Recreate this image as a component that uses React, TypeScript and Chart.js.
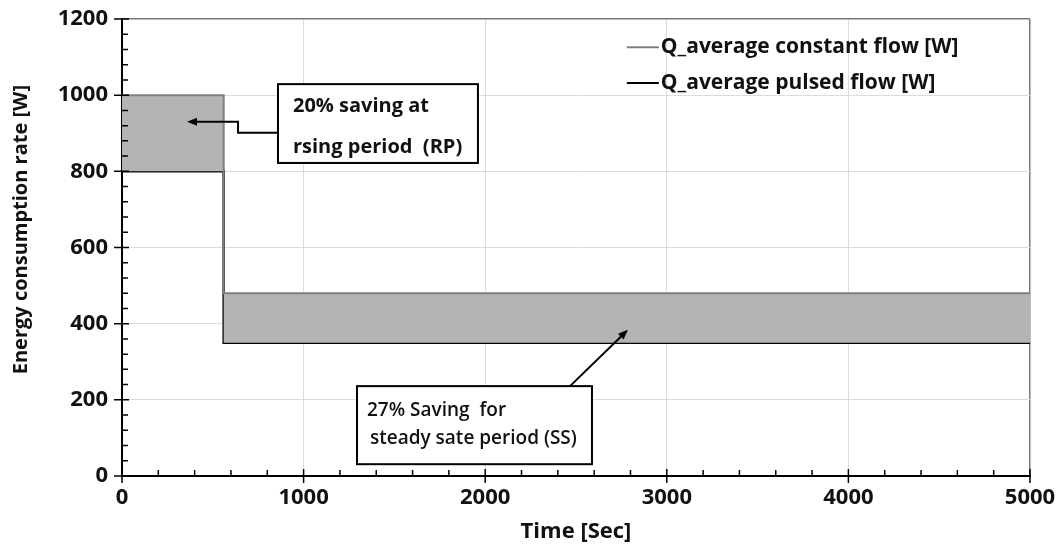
import React, { useEffect, useRef } from "react";
import { Chart, registerables } from "chart.js";

Chart.register(...registerables);

// ---- data ----
const times = [0, 560, 5000];
const constantFlow = [1000, 480, 480];
const pulsedFlow = [800, 350, 350];
const seriesNames = ["Q_average constant flow [W]", "Q_average pulsed flow [W]"];
const xTitle = "Time [Sec]";
const yTitle = "Energy consumption rate [W]";
const noteRP = ["20% saving at", "rsing period  (RP)"];
const noteSS = ["27% Saving  for", " steady sate period (SS)"];

const FONT = "'Open Sans', 'DejaVu Sans', sans-serif";
const FILL = "#b4b4b4";
const CONST_COLOR = "#7f7f7f";

const decorPlugin = {
  id: "decor",
  afterDatasetsDraw(chart: any) {
    const { ctx, chartArea } = chart;
    const xs = chart.scales.x;
    const ys = chart.scales.y;
    const X = (v: number) => xs.getPixelForValue(v);
    const Y = (v: number) => ys.getPixelForValue(v);
    ctx.save();
    // ticks
    ctx.strokeStyle = "#000";
    ctx.lineWidth = 1.5;
    ctx.beginPath();
    for (let v = 0; v <= 5000; v += 200) {
      const px = X(v);
      const major = v % 1000 === 0;
      ctx.moveTo(px, chartArea.bottom - (major ? 7 : 6));
      ctx.lineTo(px, chartArea.bottom + (major ? 7 : 0));
    }
    for (let v = 0; v <= 1200; v += 40) {
      const py = Y(v);
      const major = v % 200 === 0;
      ctx.moveTo(chartArea.left - (major ? 8 : 0), py);
      ctx.lineTo(chartArea.left + (major ? 7 : 6), py);
    }
    ctx.stroke();

    // y-axis title
    ctx.save();
    ctx.fillStyle = "#111";
    ctx.font = `bold 20px ${FONT}`;
    ctx.textAlign = "center";
    ctx.textBaseline = "middle";
    ctx.translate(21, Y(647));
    ctx.rotate(-Math.PI / 2);
    ctx.fillText(yTitle, 0, 0);
    ctx.restore();

    // legend
    ctx.font = `bold 21px ${FONT}`;
    ctx.textBaseline = "middle";
    ctx.textAlign = "left";
    const lx = X(2780);
    const legendRows = [
      { y: Y(1126), color: CONST_COLOR, label: seriesNames[0] },
      { y: Y(1032), color: "#000", label: seriesNames[1] },
    ];
    legendRows.forEach((r) => {
      ctx.strokeStyle = r.color;
      ctx.lineWidth = 2;
      ctx.beginPath();
      ctx.moveTo(lx, r.y);
      ctx.lineTo(lx + 32, r.y);
      ctx.stroke();
      ctx.fillStyle = "#111";
      ctx.fillText(r.label, lx + 34, r.y);
    });

    // arrow helper
    const arrowHead = (x1: number, y1: number, x2: number, y2: number) => {
      const a = Math.atan2(y2 - y1, x2 - x1);
      const L = 10, W = 4;
      ctx.fillStyle = "#000";
      ctx.beginPath();
      ctx.moveTo(x2, y2);
      ctx.lineTo(x2 - L * Math.cos(a) + W * Math.sin(a), y2 - L * Math.sin(a) - W * Math.cos(a));
      ctx.lineTo(x2 - L * Math.cos(a) - W * Math.sin(a), y2 - L * Math.sin(a) + W * Math.cos(a));
      ctx.closePath();
      ctx.fill();
    };

    // arrow 1 (elbow)
    ctx.strokeStyle = "#000";
    ctx.lineWidth = 2;
    const p1 = [X(859), Y(901)];
    const p2 = [X(639), Y(901)];
    const p3 = [X(639), Y(930)];
    const p4 = [X(358), Y(930)];
    ctx.beginPath();
    ctx.moveTo(p1[0], p1[1]);
    ctx.lineTo(p2[0], p2[1]);
    ctx.lineTo(p3[0], p3[1]);
    ctx.lineTo(p4[0] + 6, p4[1]);
    ctx.stroke();
    arrowHead(p3[0], p3[1], p4[0], p4[1]);

    // arrow 2
    const q1 = [X(2467), Y(236)];
    const q2 = [X(2786), Y(384)];
    ctx.beginPath();
    ctx.moveTo(q1[0], q1[1]);
    const ang = Math.atan2(q2[1] - q1[1], q2[0] - q1[0]);
    ctx.lineTo(q2[0] - 6 * Math.cos(ang), q2[1] - 6 * Math.sin(ang));
    ctx.stroke();
    arrowHead(q1[0], q1[1], q2[0], q2[1]);

    // boxes
    const box = (x0: number, y0: number, x1: number, y1: number) => {
      const l = X(x0), t = Y(y0), r = X(x1), b = Y(y1);
      ctx.fillStyle = "#fff";
      ctx.fillRect(l, t, r - l, b - t);
      ctx.strokeStyle = "#000";
      ctx.lineWidth = 2;
      ctx.strokeRect(l, t, r - l, b - t);
      return { l, t };
    };
    const b1 = box(859, 1029, 1960, 822);
    ctx.fillStyle = "#111";
    ctx.font = `bold 20px ${FONT}`;
    ctx.textBaseline = "middle";
    ctx.textAlign = "left";
    ctx.fillText(noteRP[0], b1.l + 15, b1.t + 22);
    ctx.fillText(noteRP[1], b1.l + 15, b1.t + 63);

    const b2 = box(1294, 236, 2588, 31);
    ctx.fillStyle = "#111";
    ctx.font = `600 19px ${FONT}`;
    ctx.textBaseline = "middle";
    ctx.fillText(noteSS[0], b2.l + 10, b2.t + 24);
    ctx.fillText(noteSS[1], b2.l + 8, b2.t + 52);
    ctx.restore();
  },
};

export default function App() {
  const ref = useRef<HTMLCanvasElement | null>(null);
  useEffect(() => {
    if (!ref.current) return;
    const chart = new Chart(ref.current, {
      type: "line",
      data: {
        labels: times,
        datasets: [
          {
            label: seriesNames[0],
            data: times.map((t, i) => ({ x: t, y: constantFlow[i] })),
            borderColor: CONST_COLOR,
            borderWidth: 2,
            backgroundColor: FILL,
            fill: "+1",
            stepped: "before",
            pointRadius: 0,
          },
          {
            label: seriesNames[1],
            data: times.map((t, i) => ({ x: t, y: pulsedFlow[i] })),
            borderColor: "#000",
            borderWidth: 2.5,
            fill: false,
            stepped: "before",
            pointRadius: 0,
          },
        ],
      },
      plugins: [decorPlugin],
      options: {
        animation: false,
        responsive: true,
        maintainAspectRatio: false,
        layout: { padding: { top: 19, right: 33, left: 0, bottom: 0 } },
        plugins: { legend: { display: false }, tooltip: { enabled: false } },
        scales: {
          x: {
            type: "linear",
            min: 0,
            max: 5000,
            afterFit: (s: any) => {
              s.height = 70;
              s.paddingLeft = 0;
              s.paddingRight = 0;
            },
            ticks: {
              stepSize: 1000,
              padding: 9,
              color: "#111",
              font: { family: FONT, size: 22, weight: "bold" },
              maxRotation: 0,
              callback: (v: any) => String(v),
            },
            grid: {
              drawTicks: false,
              color: (c: any) => (c.tick && c.tick.value === 5000 ? "#7a7a7a" : "#dcdcdc"),
              lineWidth: (c: any) => (c.tick && c.tick.value === 5000 ? 1.5 : 1),
            },
            border: { color: "#000", width: 2 },
            title: {
              display: true,
              text: xTitle,
              color: "#111",
              font: { family: FONT, size: 22, weight: "bold" },
              padding: { top: 0, bottom: 1 },
            },
          },
          y: {
            min: 0,
            max: 1200,
            afterFit: (s: any) => {
              s.width = 122;
              s.paddingTop = 0;
              s.paddingBottom = 0;
            },
            ticks: {
              stepSize: 200,
              padding: 14,
              color: "#111",
              font: { family: FONT, size: 22, weight: "bold" },
              callback: (v: any) => String(v),
            },
            grid: {
              drawTicks: false,
              color: (c: any) => (c.tick && c.tick.value === 1200 ? "#7a7a7a" : "#dcdcdc"),
              lineWidth: (c: any) => (c.tick && c.tick.value === 1200 ? 1.5 : 1),
            },
            border: { color: "#000", width: 2 },
            title: { display: false },
          },
        },
      },
    } as any);
    return () => chart.destroy();
  }, []);
  return (
    <div style={{ position: "absolute", left: 0, top: 0, width: 1063, height: 546, background: "#fff" }}>
      <canvas ref={ref} />
    </div>
  );
}
